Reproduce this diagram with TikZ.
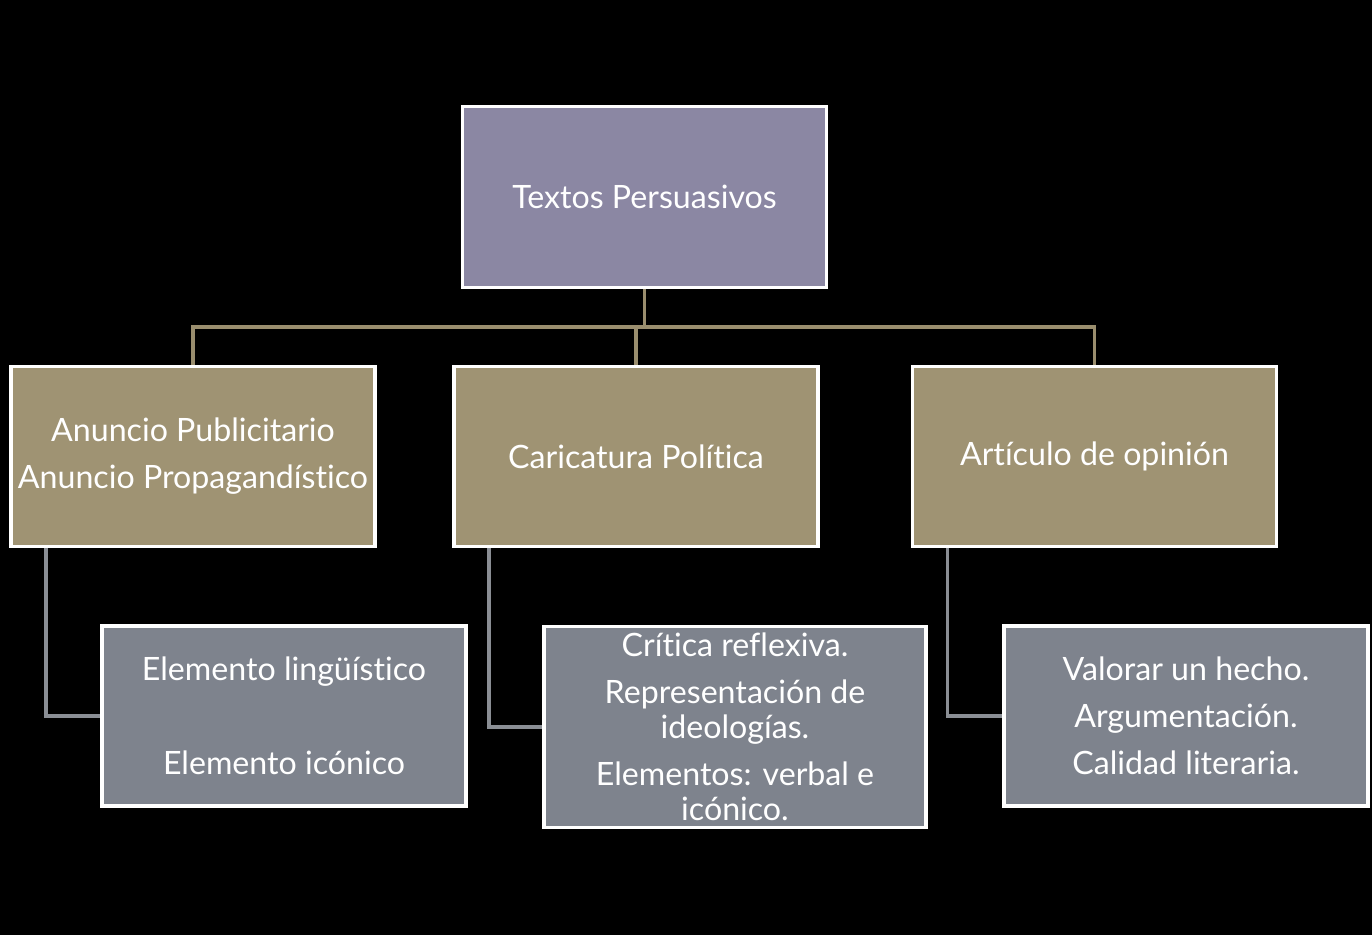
\documentclass[tikz,border=0pt]{standalone}
\usepackage{fontspec}
\setmainfont[Ligatures=NoCommon]{Lato}
\definecolor{lila}{HTML}{8B87A3}
\definecolor{arena}{HTML}{9F9373}
\definecolor{pizarra}{HTML}{7E838D}
\definecolor{lineatan}{HTML}{9A8E6E}
\definecolor{lineagris}{HTML}{8A8E94}
\tikzset{
	caja/.style={shape=rectangle,draw=white,line width=0.07cm,text=white,align=center,
		font=\fontsize{18.3}{20}\selectfont,minimum width=7.28cm,inner sep=0pt},
	raiz/.style={caja,fill=lila,minimum height=3.62cm},
	rama/.style={caja,fill=arena,minimum height=3.6cm},
	hoja/.style={caja,fill=pizarra,minimum height=3.6cm},
	unetan/.style={draw=lineatan,line width=0.07cm},
	unegris/.style={draw=lineagris,line width=0.07cm},
}
\begin{document}
\begin{tikzpicture}[x=0.02cm,y=-0.02cm]
	\fill[black] (0,0) rectangle (1372,935);
	\useasboundingbox (0,0) rectangle (1372,935);
	\node[raiz] (tp) at (644.5,197) {Textos Persuasivos};
	\node[rama] (anuncio) at (193,456.5) {Anuncio Publicitario\\[6.7pt]Anuncio Propagandístico};
	\node[rama] (caricatura) at (636,456.5) {Caricatura Política};
	\node[rama] (articulo) at (1094.5,456.5) {Artículo de opinión};
	\node[hoja] (elementos) at (284,716) {Elemento lingüístico\\[33.4pt]Elemento icónico};
	\node[hoja,minimum width=7.64cm,minimum height=4.02cm] (critica) at (735,727) {Crítica reflexiva.\\[6.7pt]Representación de\\ideologías.\\[6.7pt]Elementos: verbal e\\icónico.};
	\node[hoja] (valorar) at (1186,716) {Valorar un hecho.\\[6.7pt]Argumentación.\\[6.7pt]Calidad literaria.};
	\coordinate (bus) at (644.5,327);
	\path [unetan] (tp.south) edge (bus);
	\path [unetan] (anuncio.north) |- (bus) -| (articulo.north);
	\path [unetan] (caricatura.north) |- (bus);
	\path [unegris] ([xshift=0.73cm]anuncio.south west) |- (elementos.west);
	\path [unegris] ([xshift=0.73cm]caricatura.south west) |- (critica.west);
	\path [unegris] ([xshift=0.73cm]articulo.south west) |- (valorar.west);
\end{tikzpicture}
\end{document}
